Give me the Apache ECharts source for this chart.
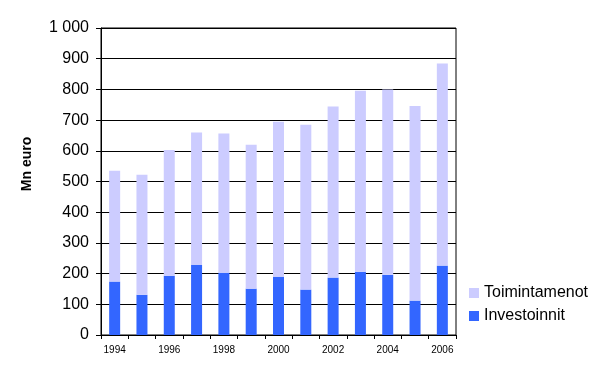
<!DOCTYPE html>
<html>
<head>
<meta charset="utf-8">
<script src="https://cdn.jsdelivr.net/npm/echarts@6/dist/echarts.min.js"></script>
<style>
  html, body { margin: 0; padding: 0; background: #fff; }
  #chart { width: 604px; height: 377px; }
</style>
</head>
<body>
<div id="chart"></div>
<script>
const years = ['1994', '1995', '1996', '1997', '1998', '1999', '2000', '2001', '2002', '2003', '2004', '2005', '2006'];
const investoinnit = [174, 131, 193, 229, 203, 151, 190, 148, 187, 206, 196, 112, 226];
const toimintamenot = [361, 391, 410, 431, 453, 469, 505, 537, 557, 590, 604, 634, 658];

const FONT = 'Arial, "Liberation Sans", sans-serif';

const chart = echarts.init(document.getElementById('chart'), null, {renderer: 'canvas'});

chart.setOption({
    animation: false,
    grid: {
        left: 101,
        right: 148,
        top: 28,
        bottom: 42,
        show: true,
        borderColor: '#000',
        borderWidth: 1
    },
    legend: {
        orient: 'vertical',
        left: 464,
        top: 280,
        itemWidth: 10,
        itemHeight: 10,
        itemGap: 7,
        icon: 'rect',
        data: ['Toimintamenot', 'Investoinnit'],
        textStyle: {fontFamily: FONT, fontSize: 16, color: '#000', lineHeight: 16}
    },
    xAxis: {
        type: 'category',
        data: years,
        axisLine: {lineStyle: {color: '#000', width: 1}},
        axisTick: {show: true, interval: 0, length: 4, lineStyle: {color: '#000'}},
        axisLabel: {interval: 1, fontFamily: FONT, fontSize: 10, color: '#000', margin: 10}
    },
    yAxis: {
        type: 'value',
        min: 0,
        max: 1000,
        interval: 100,
        axisLine: {show: true, lineStyle: {color: '#000', width: 1}},
        axisTick: {show: true, length: 5, lineStyle: {color: '#000'}},
        splitLine: {lineStyle: {color: '#000', width: 1}},
        axisLabel: {
            fontFamily: FONT,
            fontSize: 16,
            color: '#000',
            margin: 12,
            formatter: v => v >= 1000 ? '1 000' : String(v)
        }
    },
    graphic: [{
        type: 'text',
        x: 27,
        y: 164,
        rotation: Math.PI / 2,
        style: {
            text: 'Mn euro',
            font: 'bold 14px ' + FONT,
            fill: '#000',
            align: 'center',
            verticalAlign: 'middle'
        }
    }],
    series: [
        {
            name: 'Investoinnit',
            type: 'bar',
            stack: 'total',
            barWidth: 11,
            data: investoinnit,
            itemStyle: {color: '#3366ff'}
        },
        {
            name: 'Toimintamenot',
            type: 'bar',
            stack: 'total',
            barWidth: 11,
            data: toimintamenot,
            itemStyle: {color: '#ccccff'}
        }
    ]
});
</script>
</body>
</html>
